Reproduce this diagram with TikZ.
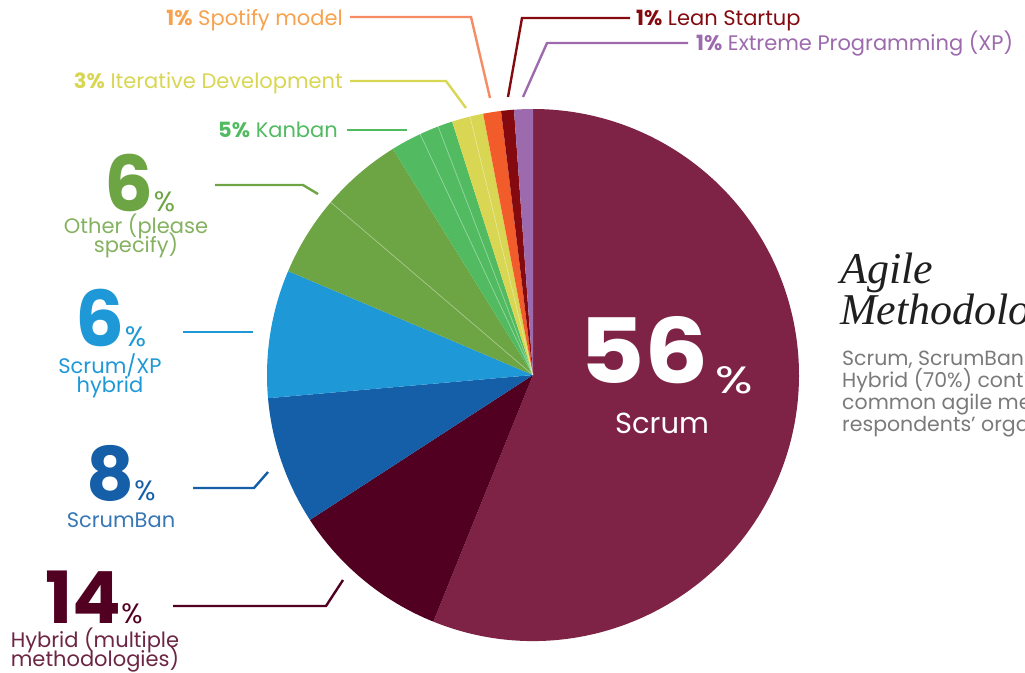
\documentclass[tikz,border=0pt]{standalone}
\usepackage{fontspec}
\setmainfont{Poppins}
\newfontfamily\headfont{Liberation Serif}
\definecolor{cScrum}{HTML}{7F2346}
\definecolor{cHybrid}{HTML}{520022}
\definecolor{cBan}{HTML}{155FA8}
\definecolor{cXPh}{HTML}{1E98D6}
\definecolor{cOther}{HTML}{6EA544}
\definecolor{cKanban}{HTML}{52BB61}
\definecolor{cIter}{HTML}{D8D652}
\definecolor{cSpot}{HTML}{F25C2A}
\definecolor{cSpotLine}{HTML}{F58C64}
\definecolor{cSpotText}{HTML}{F7A24E}
\definecolor{cLean}{HTML}{850A0F}
\definecolor{cXP}{HTML}{9C6AAD}
\definecolor{cBody}{HTML}{7A7A7A}
\newcommand\mySlice[3]{\fill[#3] (0,0) -- (#1:266) arc[start angle=#1, end angle=#2, radius=266] -- cycle;}
\newcommand\mySeam[1]{\draw[white, opacity=0.45, line width=0.6pt] (0,0) -- (#1:266);}
\newcommand\myTight{\lineskiplimit=-30pt\relax\lineskip=0pt\relax}
\tikzset{
  leader/.style={line width=2.4pt},
  small/.style={inner sep=0pt, font=\fontsize{21}{21}\selectfont},
  bignum/.style={inner sep=0pt, anchor=base},
  captext/.style={inner sep=0pt, anchor=base, align=center, font=\fontsize{21}{19}\selectfont\myTight},
  bodytext/.style={inner sep=0pt, anchor=base west, font=\fontsize{20.5}{20.5}\selectfont, text=cBody},
  headtext/.style={inner sep=0pt, anchor=base west, font=\headfont\itshape\fontsize{44}{44}\selectfont, text=black!88},
}
\begin{document}
\begin{tikzpicture}[x=1pt, y=-1pt]
\useasboundingbox (0,0) rectangle (1025,672);
\clip (0,0) rectangle (1025,672);
% pie
\begin{scope}[shift={(533,375)}, yscale=-1]
  \mySlice{-112}{90}{cScrum}
  \mySlice{-147}{-112}{cHybrid}
  \mySlice{-175}{-147}{cBan}
  \mySlice{157}{185}{cXPh}
  \mySlice{121.8}{157}{cOther}
  \mySlice{107.7}{121.8}{cKanban}
  \mySlice{100.8}{107.7}{cIter}
  \mySlice{96.9}{100.8}{cSpot}
  \mySlice{94.1}{96.9}{cLean}
  \mySlice{90}{94.1}{cXP}
  \mySeam{139.5}
  \mySeam{115.1}
  \mySeam{110.9}
  \mySeam{103.7}
\end{scope}
% Scrum label
\node[bignum, text=white] (n56) at (666,383) {\fontsize{90}{90}\selectfont\bfseries \scalebox{1.12}[1]{56}\hspace{6pt}\raisebox{-10pt}{\fontsize{38}{38}\selectfont\mdseries\scalebox{1.3}[1]{\%}}};
\node[inner sep=0pt, anchor=base, text=white, font=\fontsize{29}{29}\selectfont] (tScrum) at (662,433) {Scrum};
% Hybrid
\node[bignum, text=cHybrid] (n14) at (94,623) {\fontsize{72}{72}\selectfont\bfseries 14\fontsize{28}{28}\selectfont\mdseries\%};
\node[captext, text=cHybrid!85!white] (tHyb) at (95,666) {Hybrid (multiple\\methodologies)};
\coordinate (hA) at (173,606); \coordinate (hB) at (326,606); \coordinate (hC) at (343,580);
\draw[leader, cHybrid] (hA) -- (hB) -- (hC);
% ScrumBan
\node[bignum, text=cBan] (n8) at (121,500) {\fontsize{74}{74}\selectfont\bfseries 8\fontsize{28}{28}\selectfont\mdseries\%};
\node[captext, text=cBan!85!white] (tBan) at (121,527) {ScrumBan};
\coordinate (bA) at (193,488); \coordinate (bB) at (254,488); \coordinate (bC) at (268,472);
\draw[leader, cBan] (bA) -- (bB) -- (bC);
% Scrum/XP hybrid
\node[bignum, text=cXPh] (n6x) at (111,346) {\fontsize{77}{77}\selectfont\bfseries 6\fontsize{28}{28}\selectfont\mdseries\%};
\node[captext, text=cXPh] (tXPh) at (110,392) {Scrum/XP\\hybrid};
\coordinate (xA) at (183,332); \coordinate (xB) at (253,332);
\draw[leader, cXPh] (xA) -- (xB);
% Other
\node[bignum, text=cOther] (n6o) at (140,211) {\fontsize{77}{77}\selectfont\bfseries 6\fontsize{28}{28}\selectfont\mdseries\%};
\node[captext, text=cOther!85!white] (tOther) at (136,252) {Other (please\\specify)};
\coordinate (oA) at (215,185); \coordinate (oB) at (303,185); \coordinate (oC) at (318,194);
\draw[leader, cOther] (oA) -- (oB) -- (oC);
% Kanban
\node[small, anchor=base east, text=cKanban] (tKan) at (338,137) {\textbf{5\%} Kanban};
\coordinate (kA) at (347,130); \coordinate (kB) at (407,130);
\draw[leader, cKanban] (kA) -- (kB);
% Iterative
\node[small, anchor=base east, text=cIter] (tIter) at (343,88) {\textbf{3\%} Iterative Development};
\coordinate (iA) at (350,81); \coordinate (iB) at (446,81); \coordinate (iC) at (466,108);
\draw[leader, cIter] (iA) -- (iB) -- (iC);
% Spotify
\node[small, anchor=base east, text=cSpotText] (tSpot) at (343,25) {\textbf{1\%} Spotify model};
\coordinate (sA) at (350,17); \coordinate (sB) at (471,17); \coordinate (sC) at (490,98);
\draw[leader, cSpotLine] (sA) -- (sB) -- (sC);
% Lean
\node[small, anchor=base west, text=cLean] (tLean) at (636,25) {\textbf{1\%} Lean Startup};
\coordinate (lA) at (630,18); \coordinate (lB) at (522,18); \coordinate (lC) at (508,97);
\draw[leader, cLean] (lA) -- (lB) -- (lC);
% XP
\node[small, anchor=base west, text=cXP] (tXP) at (696,50) {\textbf{1\%} Extreme Programming (XP)};
\coordinate (pA) at (688,43); \coordinate (pB) at (547,43); \coordinate (pC) at (523,97);
\draw[leader, cXP] (pA) -- (pB) -- (pC);
% Heading and body
\node[headtext] (hd1) at (840,283) {Agile};
\node[headtext] (hd2) at (840,324) {Methodologies};
\node[bodytext] (b1) at (842,365) {Scrum, ScrumBan and};
\node[bodytext] (b2) at (842,387) {Hybrid (70\%) continue};
\node[bodytext] (b3) at (842,409) {common agile methodologies};
\node[bodytext] (b4) at (842,431) {respondents' organizations};
\end{tikzpicture}
\end{document}
